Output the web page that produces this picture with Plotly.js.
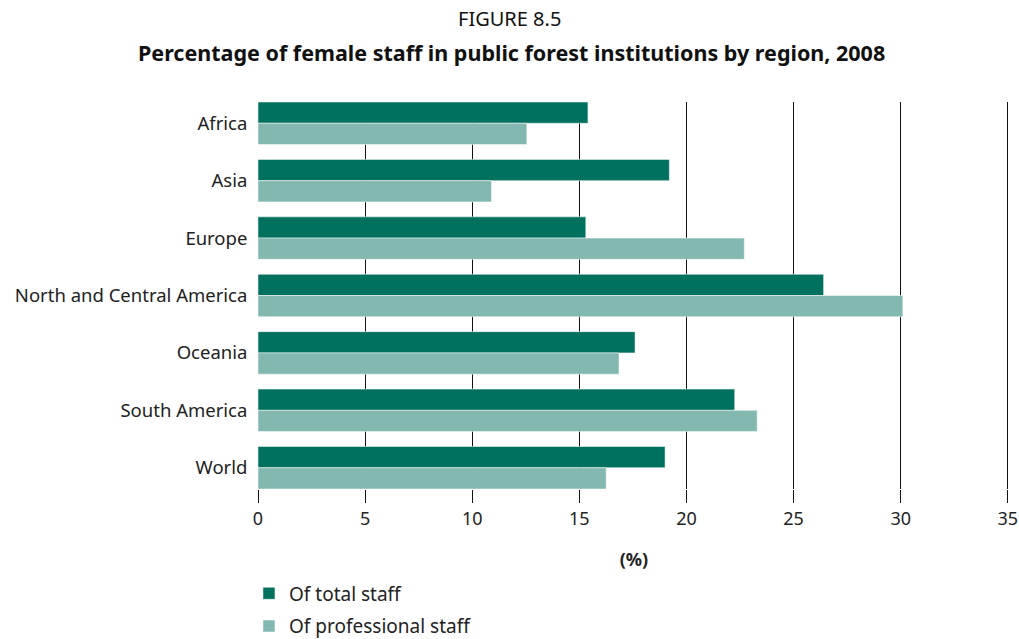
<!DOCTYPE html>
<html>
<head>
<meta charset="utf-8">
<script src="https://cdn.plot.ly/plotly-3.0.1.min.js"></script>
<style>html,body{margin:0;padding:0;background:#fff;}#chart{width:1019px;height:639px;}</style>
</head>
<body>
<div id="chart"></div>
<script>
const regions = ["Africa", "Asia", "Europe", "North and Central America", "Oceania", "South America", "World"];
const totalStaff = [15.4, 19.2, 15.3, 26.4, 17.6, 22.25, 19.0];
const professionalStaff = [12.55, 10.9, 22.7, 30.1, 16.85, 23.3, 16.25];
const xTicks = [0, 5, 10, 15, 20, 25, 30, 35];

const FONT = "Noto Sans, Open Sans, sans-serif";

const traces = [
  {
    type: "bar", orientation: "h", name: "Of total staff",
    y: regions, x: totalStaff, legendgroup: "a",
    marker: {color: "#00715f", line: {color: "rgba(255,255,255,0.5)", width: 1}},
    hoverinfo: "x+y"
  },
  {
    type: "bar", orientation: "h", name: "Of professional staff",
    y: regions, x: professionalStaff, legendgroup: "b",
    marker: {color: "#83b8b0", line: {color: "rgba(255,255,255,0.5)", width: 1}},
    hoverinfo: "x+y"
  }
];

const layout = {
  width: 1019, height: 639,
  margin: {l: 258, r: 9, t: 102, b: 150, autoexpand: false},
  paper_bgcolor: "#fff", plot_bgcolor: "#fff",
  font: {family: FONT, size: 18, color: "#222"},
  barmode: "group",
  bargap: 0.26,
  bargroupgap: 0,
  xaxis: {
    automargin: false,
    range: [0, 35.1], tickvals: xTicks, ticktext: xTicks.map(String),
    ticklabeloverflow: "allow",
    showgrid: true, gridcolor: "#111", gridwidth: 1,
    zeroline: false, showline: false,
    ticks: "outside", ticklen: 13, tickcolor: "#111", tickwidth: 1,
    tickfont: {family: FONT, size: 18, color: "#222"},
    title: {text: "<b>(%)</b>", font: {family: FONT, size: 18, color: "#222"}, standoff: 24}
  },
  yaxis: {
    automargin: false,
    type: "category",
    range: [6.37, -0.37],
    showgrid: false, zeroline: false, showline: false,
    ticks: "", ticklen: 0,
    tickfont: {family: FONT, size: 18.5, color: "#222"},
    ticksuffix: "  "
  },
  showlegend: true,
  legend: {
    xref: "paper", yref: "container",
    x: -0.012, xanchor: "left", y: 0.101, yanchor: "top",
    orientation: "v", tracegroupgap: 5,
    font: {family: FONT, size: 19, color: "#222"},
    bgcolor: "rgba(0,0,0,0)"
  },
  annotations: [
    {xref: "paper", yref: "paper", x: (509.5 - 258) / 752, y: 1, yshift: 84,
     text: "FIGURE 8.5", showarrow: false, xanchor: "center", yanchor: "middle",
     font: {family: FONT, size: 20, color: "#111"}},
    {xref: "paper", yref: "paper", x: (511 - 258) / 752, y: 1, yshift: 50,
     text: "<b>Percentage of female staff in public forest institutions by region, 2008</b>",
     showarrow: false, xanchor: "center", yanchor: "middle",
     font: {family: FONT, size: 21.5, color: "#111"}}
  ]
};

Plotly.newPlot("chart", traces, layout, {displayModeBar: false, staticPlot: true});
</script>
</body>
</html>
